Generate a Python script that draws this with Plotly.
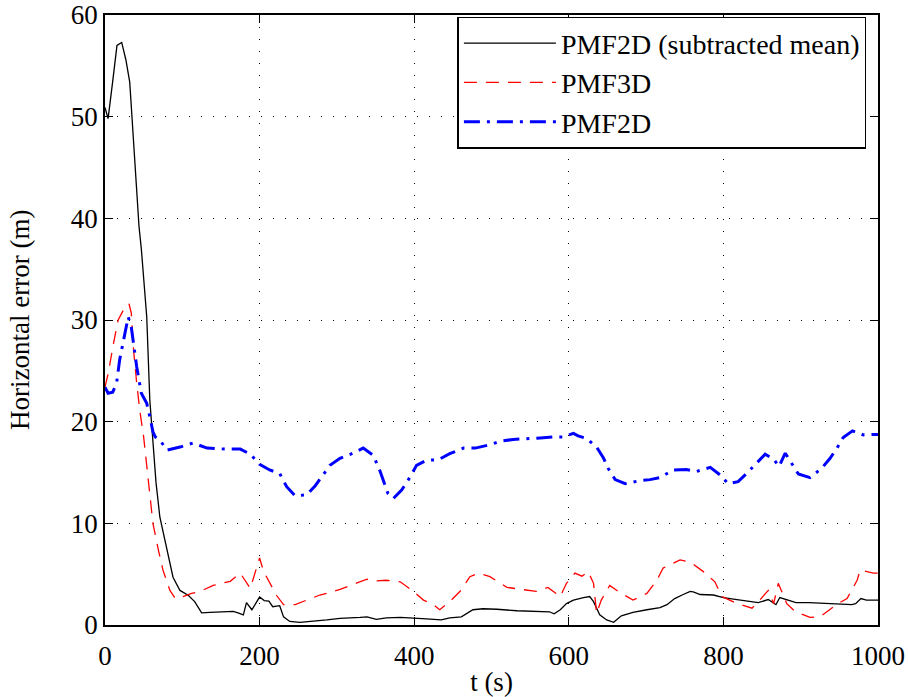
import plotly.graph_objects as go

# PMF2D (subtracted mean)
t_black = [0, 4, 10, 15.5, 21.6, 27, 32, 36, 41, 44, 47, 50, 54, 58, 62, 66, 71, 80, 88, 97, 108, 116, 125, 136, 150, 166, 172, 179, 183, 190, 200, 206, 212, 217, 226, 231, 239, 252, 287, 304, 330, 339, 351, 364, 382, 399, 416, 435, 446, 461, 476, 489, 507, 533, 567, 575, 581, 589, 597, 606, 619, 627, 632, 640, 649, 658, 668, 683, 701, 718, 727, 737, 748, 757, 761, 770, 787, 800, 813, 830, 845, 858, 868, 873, 884, 894, 911, 947, 966, 971, 978, 985, 1000]
y_black = [50.9, 49.8, 53.5, 57.0, 57.3, 55.6, 53.4, 48.4, 41.8, 39.2, 37.0, 34.0, 30.3, 22.1, 17.9, 14.0, 10.6, 7.4, 4.7, 3.4, 2.9, 2.3, 1.2, 1.25, 1.3, 1.35, 1.2, 1.0, 2.2, 1.5, 2.75, 2.4, 2.35, 1.8, 1.9, 0.8, 0.35, 0.26, 0.5, 0.65, 0.75, 0.8, 0.55, 0.7, 0.75, 0.7, 0.6, 0.5, 0.7, 0.8, 1.5, 1.6, 1.55, 1.4, 1.35, 1.3, 1.1, 1.5, 2.1, 2.45, 2.7, 2.8, 2.3, 1.0, 0.5, 0.27, 0.9, 1.25, 1.5, 1.7, 2.0, 2.6, 3.0, 3.3, 3.25, 3.0, 2.95, 2.7, 2.55, 2.35, 2.2, 2.5, 2.0, 2.7, 2.45, 2.2, 2.2, 2.1, 2.0, 2.1, 2.6, 2.45, 2.45]

# PMF3D
t_red = [0, 4, 11, 17, 24, 31, 34, 37, 41, 45, 50, 54, 58, 62, 69, 75, 84, 91, 101, 112, 123, 140, 162, 175, 188, 194, 200, 205, 213, 222, 231, 246, 261, 278, 291, 304, 326, 339, 345, 364, 382, 399, 412, 425, 433, 446, 461, 472, 483, 498, 520, 537, 558, 573, 589, 597, 608, 617, 625, 632, 636, 642, 653, 664, 683, 701, 714, 722, 744, 757, 774, 789, 798, 815, 837, 847, 858, 865, 871, 882, 893, 912, 925, 947, 960, 973, 977, 994, 1000]
y_red = [23.4, 24.7, 27.7, 30.0, 31.0, 31.6, 30.7, 27.0, 23.8, 21.1, 18.5, 15.6, 12.6, 10.0, 7.4, 5.4, 3.4, 2.6, 2.8, 3.1, 3.3, 3.9, 4.3, 5.1, 3.6, 5.2, 6.6, 5.3, 4.1, 2.9, 2.0, 2.0, 2.45, 2.95, 3.2, 3.5, 4.15, 4.5, 4.3, 4.4, 4.25, 3.3, 2.45, 2.0, 1.5, 2.3, 3.45, 4.75, 5.1, 4.75, 3.7, 3.5, 3.3, 3.7, 2.8, 4.1, 5.1, 4.8, 5.25, 4.1, 1.15, 2.45, 3.9, 3.3, 2.45, 3.1, 4.4, 5.6, 6.4, 6.2, 5.25, 4.25, 2.8, 2.2, 1.65, 2.45, 3.4, 2.1, 4.1, 2.1, 1.3, 0.75, 0.8, 2.05, 2.6, 4.4, 5.4, 5.1, 5.1]

# PMF2D
t_blue = [0, 4, 10, 15, 19, 24, 30, 34, 37, 41, 47, 54, 58, 62, 65, 71, 80, 97, 114, 132, 157, 175, 188, 200, 213, 226, 235, 246, 261, 272, 291, 304, 321, 334, 347, 356, 366, 373, 384, 395, 403, 416, 431, 446, 464, 479, 496, 513, 528, 545, 563, 580, 593, 606, 612, 623, 636, 645, 651, 660, 673, 692, 705, 718, 735, 752, 765, 783, 796, 806, 819, 830, 843, 854, 865, 872, 880, 888, 897, 912, 927, 938, 947, 955, 967, 981, 1000]
y_blue = [23.4, 22.8, 22.9, 23.8, 26.1, 28.0, 30.3, 29.3, 27.4, 25.4, 22.8, 21.8, 20.5, 19.0, 18.5, 18.2, 17.2, 17.5, 17.9, 17.4, 17.3, 17.3, 16.8, 15.8, 15.25, 14.9, 13.6, 12.7, 12.8, 13.7, 15.7, 16.4, 16.9, 17.4, 16.7, 15.1, 12.95, 12.45, 13.3, 14.6, 15.7, 16.2, 16.25, 16.85, 17.4, 17.4, 17.7, 18.1, 18.25, 18.3, 18.4, 18.5, 18.5, 18.85, 18.6, 18.35, 17.5, 16.4, 15.4, 14.3, 13.9, 14.2, 14.3, 14.5, 15.25, 15.3, 15.1, 15.5, 14.75, 13.9, 14.1, 14.9, 15.9, 16.8, 16.3, 15.6, 16.9, 15.9, 14.85, 14.5, 15.4, 16.4, 17.4, 18.45, 19.1, 18.7, 18.75]

x_ticks = [0, 200, 400, 600, 800, 1000]
y_ticks = [0, 10, 20, 30, 40, 50, 60]

FONT = "Liberation Serif"

fig = go.Figure()
fig.add_trace(go.Scatter(x=t_black, y=y_black, mode="lines", name="PMF2D (subtracted mean)",
                         line=dict(color="black", width=1.3)))
fig.add_trace(go.Scatter(x=t_red, y=y_red, mode="lines", name="PMF3D",
                         line=dict(color="red", width=1.3, dash="13px,9px")))
fig.add_trace(go.Scatter(x=t_blue, y=y_blue, mode="lines", name="PMF2D",
                         line=dict(color="blue", width=3, dash="16px,7px,3px,7px")))

axis_common = dict(showline=True, linecolor="black", linewidth=1.5, mirror="ticks",
                   ticks="inside", ticklen=8, tickcolor="black", tickwidth=1.2,
                   showgrid=True, gridcolor="black", gridwidth=1, griddash="1px,11px",
                   zeroline=False, automargin=False,
                   tickfont=dict(family=FONT, size=27, color="black"))

fig.update_xaxes(range=[0, 1000], tickvals=x_ticks, ticklabelstandoff=6,
                 title=dict(text="t (s)", font=dict(family=FONT, size=27, color="black")),
                 **axis_common)
fig.update_yaxes(range=[0, 60], tickvals=y_ticks, **axis_common)

fig.add_annotation(text="Horizontal error (m)", xref="paper", yref="paper",
                   x=-0.11, y=0.5, xanchor="center", yanchor="middle",
                   textangle=-90, showarrow=False,
                   font=dict(family=FONT, size=27, color="black"))

fig.update_layout(
    width=908, height=697,
    margin=dict(l=105, r=30, t=15, b=72),
    plot_bgcolor="white", paper_bgcolor="white",
    font=dict(family=FONT, size=27, color="black"),
    showlegend=True,
    legend=dict(x=0.985, y=0.997, xanchor="right", yanchor="top",
                bgcolor="white", bordercolor="black", borderwidth=1.5,
                font=dict(family=FONT, size=28, color="black"),
                itemwidth=92, tracegroupgap=0),
)

fig.write_html("out.html")
